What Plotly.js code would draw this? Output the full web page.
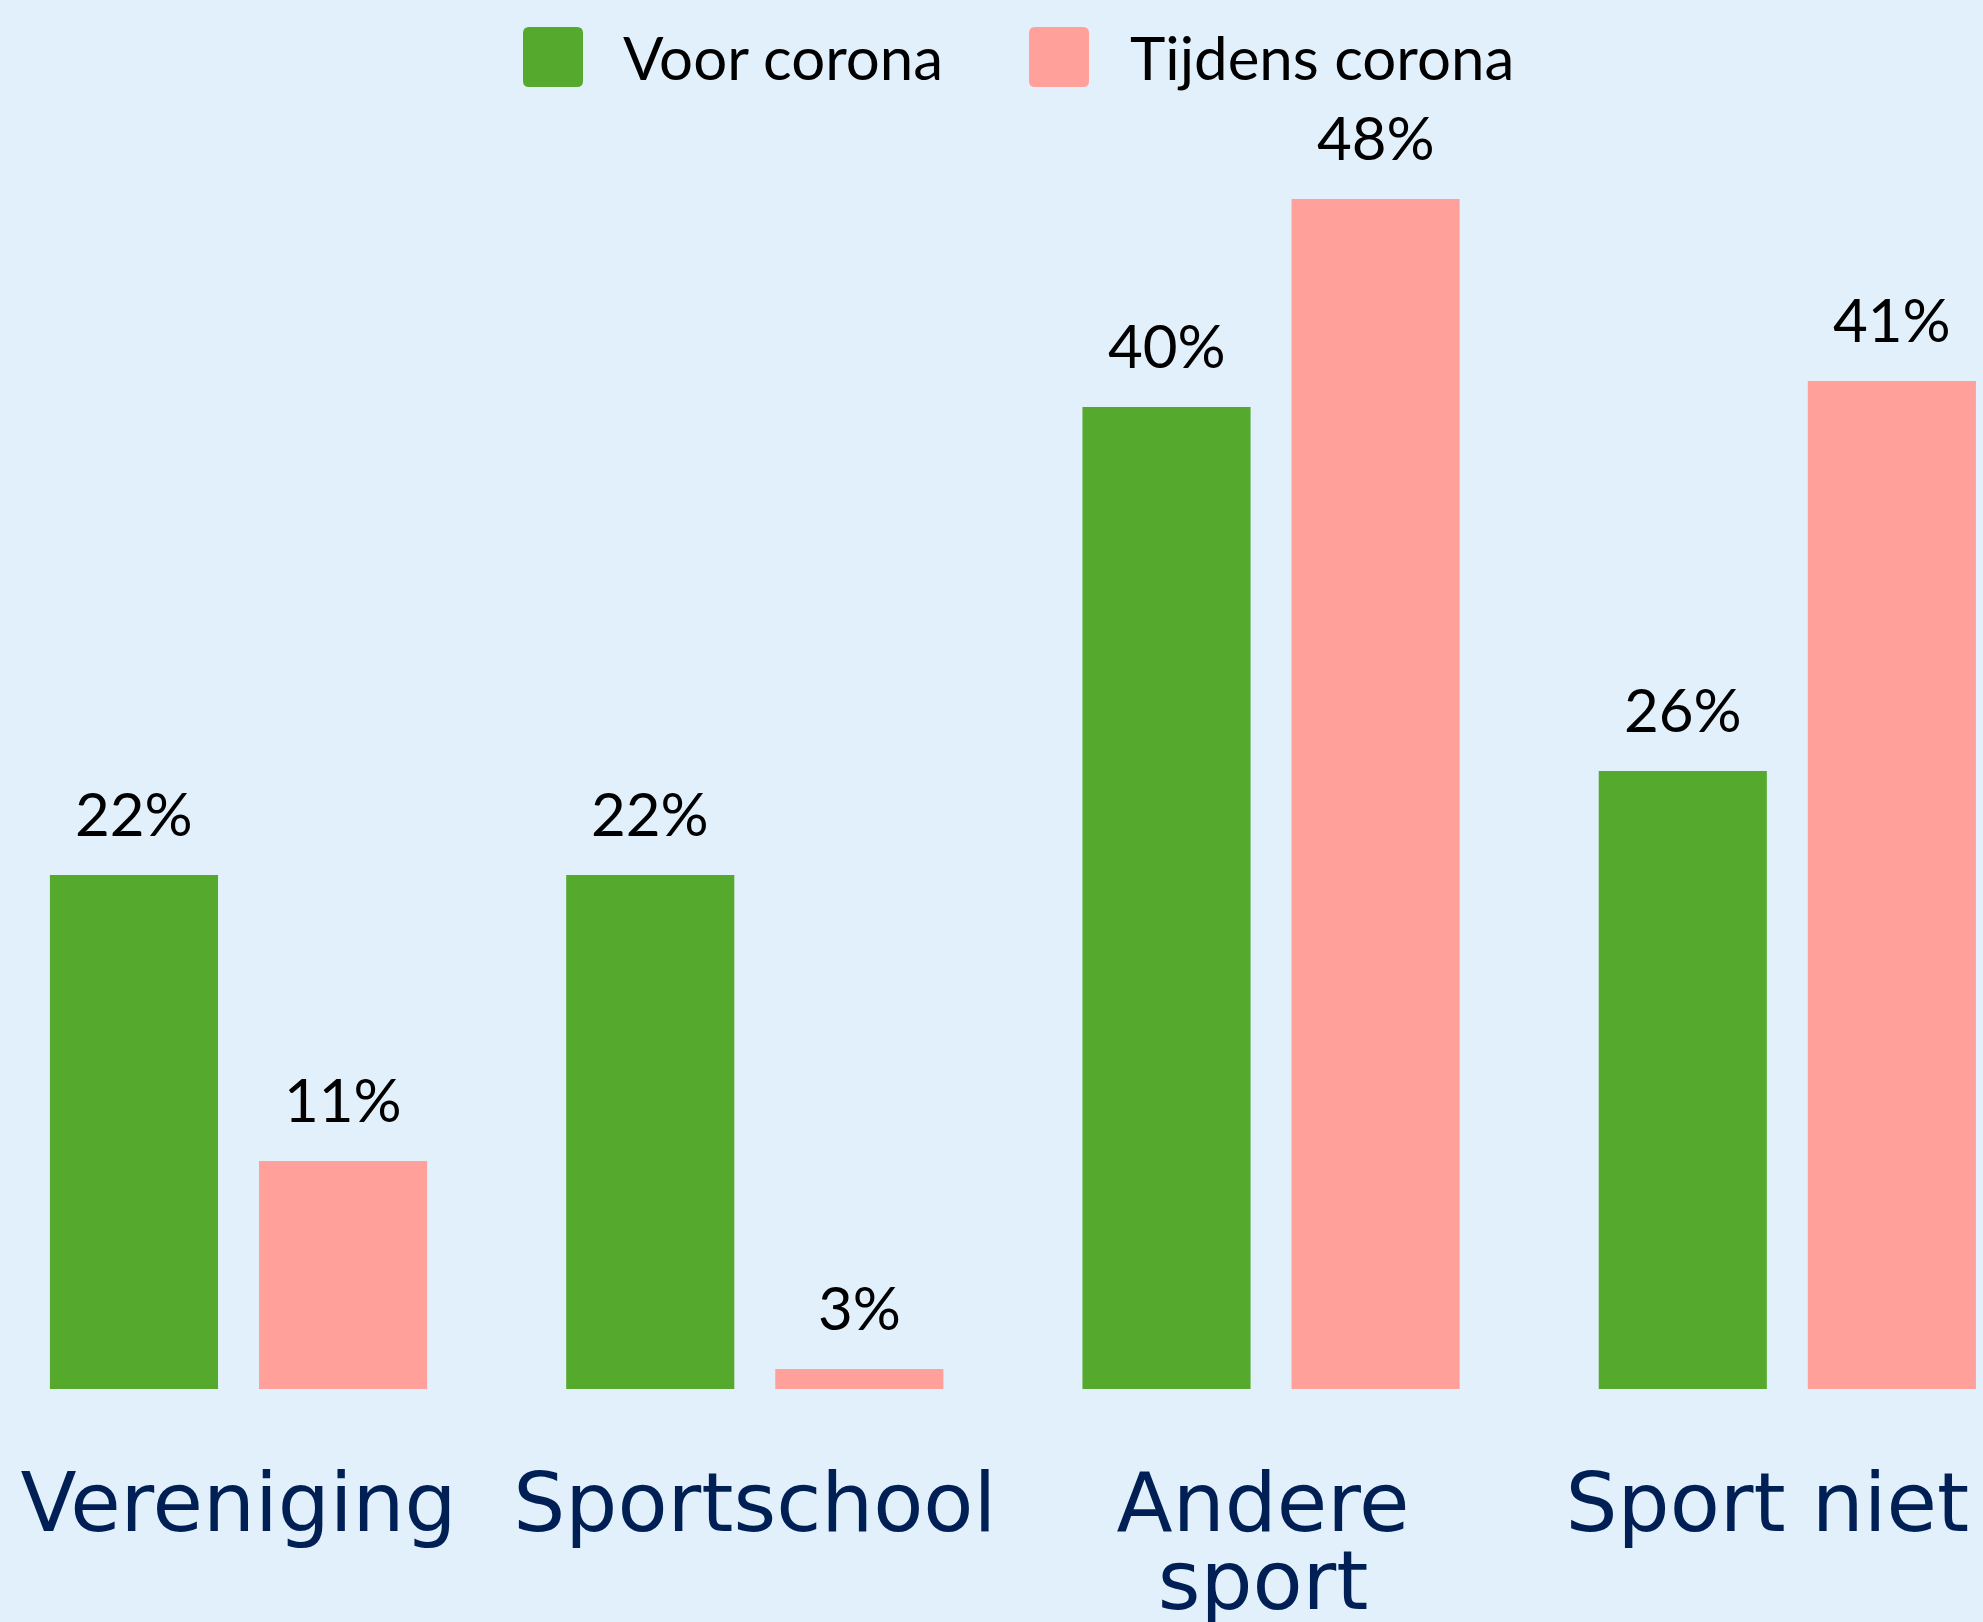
<!DOCTYPE html>
<html>
<head>
<meta charset="utf-8">
<script src="https://cdn.plot.ly/plotly-3.0.1.min.js"></script>
<style>
html, body { margin: 0; padding: 0; background: #e2f0fb; }
#chart { width: 1983px; height: 1622px; }
</style>
</head>
<body>
<div id="chart"></div>
<script>
// ---- data ----
const categories = ["Vereniging", "Sportschool", "Andere sport", "Sport niet"];
const categoryLabels = ["Vereniging", "Sportschool", "Andere<br>sport", "Sport niet"];
const seriesNames = ["Voor corona", "Tijdens corona"];
const voorCorona = [22, 22, 40, 26];
const tijdensCorona = [11, 3, 48, 41];

// ---- style ----
const green = "#55a92c";
const pink = "#ffa09a";
const bg = "#e2f0fb";
const BARGAP = 0.19;
const W = 1983, H = 1622;
const M = { l: 0, r: 0, t: 100, b: 233 };
const labelShiftPx = [0, 0, -8, -20];

const seriesValues = [voorCorona, tijdensCorona];
const seriesColors = [green, pink];

const data = seriesNames.map((name, i) => ({
  type: "bar",
  name: name,
  x: categories,
  y: seriesValues[i],
  marker: { color: seriesColors[i], line: { width: 0 } },
  hoverinfo: "none",
  showlegend: false
}));

// value labels above the bars, placed on the chart's own axes
const slot = (1 - BARGAP) / seriesNames.length;
const annotations = [];
seriesValues.forEach((vals, i) => {
  const off = -(1 - BARGAP) / 2 + slot * (i + 0.5);
  vals.forEach((v, j) => {
    annotations.push({
      x: j + off, y: v, xref: "x", yref: "y",
      text: v + "%",
      showarrow: false,
      xanchor: "center", yanchor: "bottom",
      yshift: 24,
      font: { family: "Lato", size: 60, color: "#000000" }
    });
  });
});

// ---- legend (large rounded swatches, drawn in paper space) ----
const plotW = W - M.l - M.r, plotH = H - M.t - M.b;
const px2x = px => (px - M.l) / plotW;
const px2y = py => (H - M.b - py) / plotH;
const legendSwatchLeft = [523, 1029];
const legendTextLeft = [621, 1128];
const swatchSize = 60, swatchTop = 27, swatchR = 6, legendTextBottom = 95;

function roundedRectPath(x0, y0, w, h, r) {
  const X = px2x, Y = px2y;
  const x1 = x0 + w, y1 = y0 + h;
  return "M" + X(x0 + r) + "," + Y(y0) +
    " L" + X(x1 - r) + "," + Y(y0) +
    " Q" + X(x1) + "," + Y(y0) + " " + X(x1) + "," + Y(y0 + r) +
    " L" + X(x1) + "," + Y(y1 - r) +
    " Q" + X(x1) + "," + Y(y1) + " " + X(x1 - r) + "," + Y(y1) +
    " L" + X(x0 + r) + "," + Y(y1) +
    " Q" + X(x0) + "," + Y(y1) + " " + X(x0) + "," + Y(y1 - r) +
    " L" + X(x0) + "," + Y(y0 + r) +
    " Q" + X(x0) + "," + Y(y0) + " " + X(x0 + r) + "," + Y(y0) + " Z";
}

const shapes = seriesNames.map((name, i) => ({
  type: "path",
  xref: "paper", yref: "paper",
  path: roundedRectPath(legendSwatchLeft[i], swatchTop, swatchSize, swatchSize, swatchR),
  fillcolor: seriesColors[i],
  line: { width: 0 },
  layer: "above"
}));

seriesNames.forEach((name, i) => {
  annotations.push({
    x: px2x(legendTextLeft[i]), y: px2y(legendTextBottom),
    xref: "paper", yref: "paper",
    xanchor: "left", yanchor: "bottom",
    text: name,
    showarrow: false,
    font: { family: "Lato", size: 60, color: "#000000" }
  });
});

const layout = {
  width: W,
  height: H,
  paper_bgcolor: bg,
  plot_bgcolor: bg,
  margin: { l: M.l, r: M.r, t: M.t, b: M.b, pad: 0 },
  barmode: "group",
  bargap: BARGAP,
  bargroupgap: 0.196,
  showlegend: false,
  annotations: annotations,
  shapes: shapes,
  xaxis: {
    type: "category",
    range: [-0.462, 3.379],
    tickmode: "array",
    tickvals: categories,
    ticktext: categoryLabels,
    showgrid: false,
    zeroline: false,
    showline: false,
    ticks: "",
    ticklabelstandoff: 59,
    tickfont: { family: "DejaVu Sans", size: 82, color: "#001f54" },
    automargin: false,
    fixedrange: true
  },
  yaxis: {
    range: [2.23, 51.81],
    showgrid: false,
    zeroline: false,
    showline: false,
    showticklabels: false,
    ticks: "",
    automargin: false,
    fixedrange: true
  },
  font: { family: "Lato" }
};

function tweakLabels(gd) {
  const ticks = gd.querySelectorAll(".xtick text");
  ticks.forEach((t, k) => {
    t.querySelectorAll("tspan.line").forEach((ts, i) => {
      if (i > 0) ts.setAttribute("dy", "0.95em");
    });
    const s = labelShiftPx[k] || 0;
    if (s) {
      const tag = "translate(" + s + ",0)";
      const tr = t.getAttribute("transform") || "";
      if (!tr.startsWith(tag)) t.setAttribute("transform", tag + " " + tr);
    }
  });
}

Plotly.newPlot("chart", data, layout, { staticPlot: true, displayModeBar: false }).then(gd => {
  tweakLabels(gd);
  gd.on("plotly_afterplot", () => tweakLabels(gd));
  setTimeout(() => tweakLabels(gd), 50);
  setTimeout(() => tweakLabels(gd), 300);
});
</script>
</body>
</html>
